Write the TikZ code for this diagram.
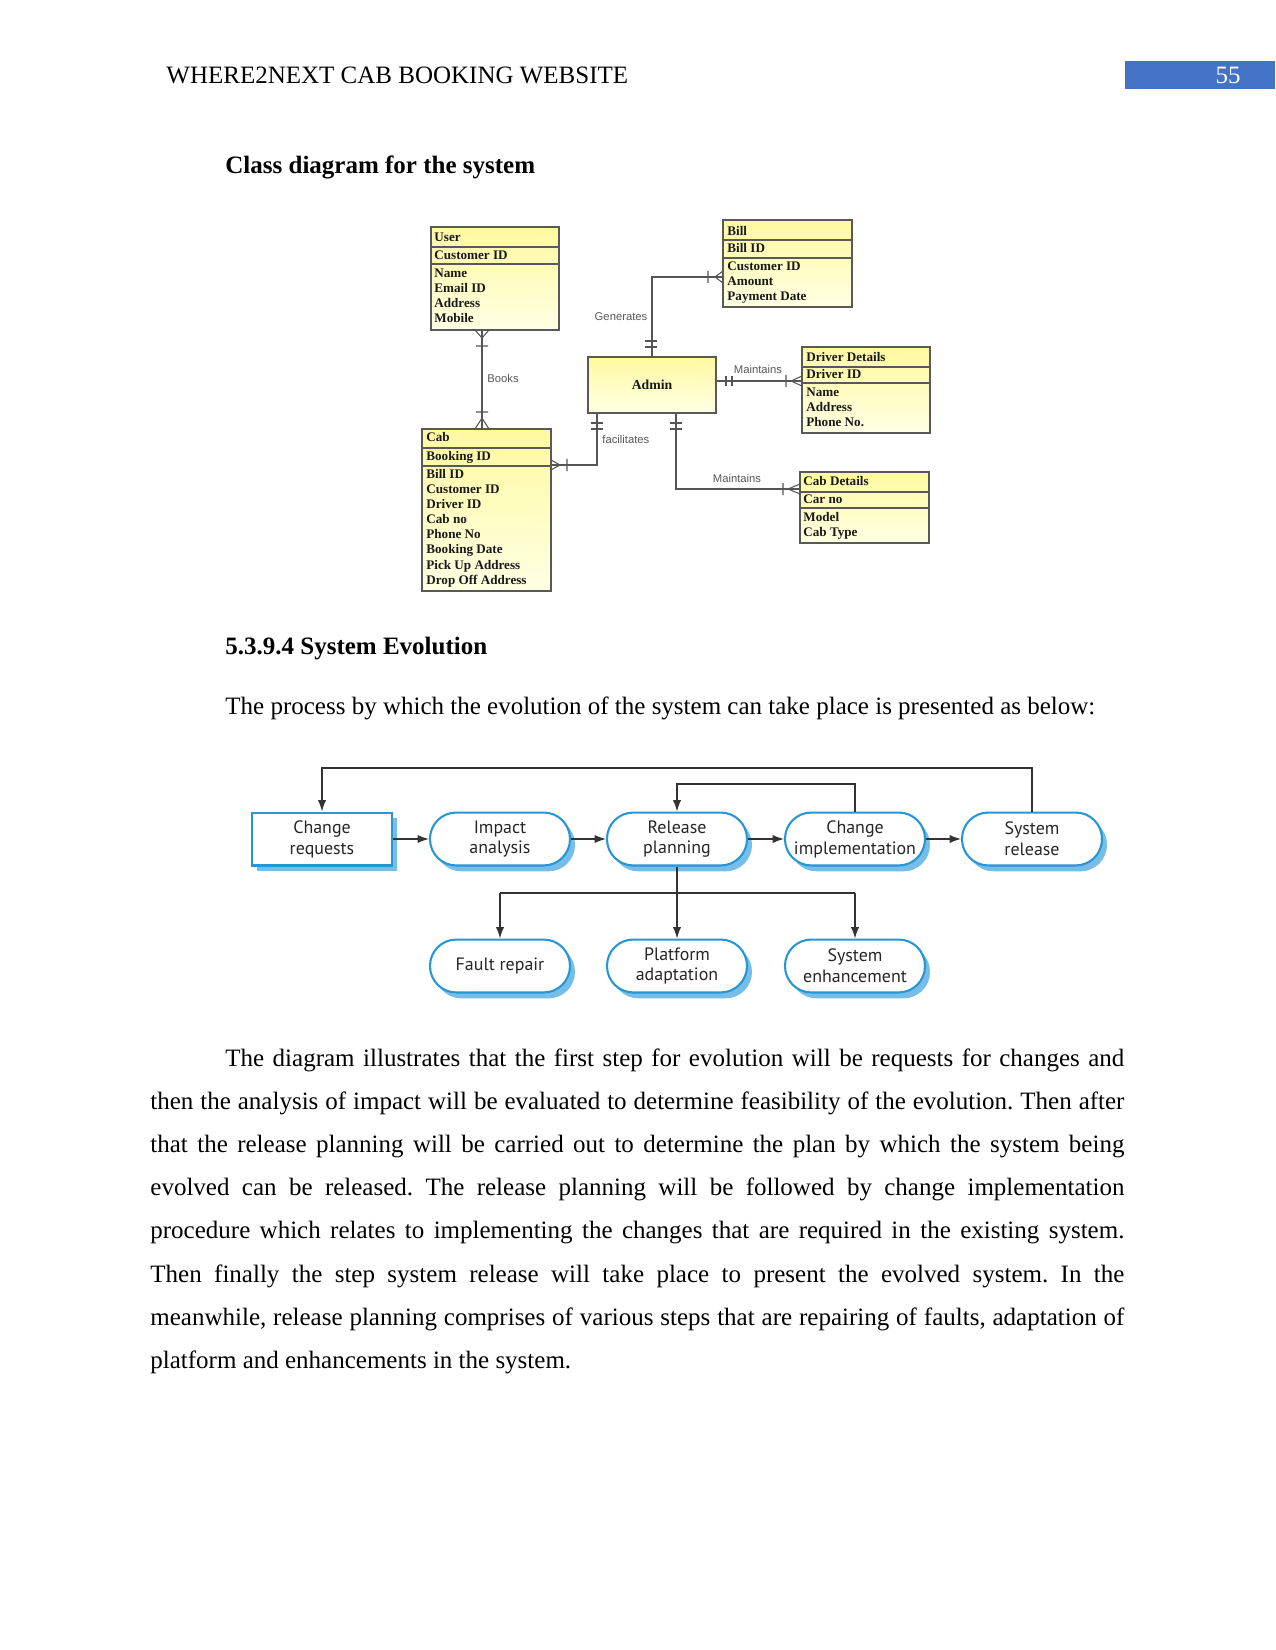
\documentclass[tikz,border=0pt]{standalone}
\usepackage{fontspec}
\setmainfont{Liberation Serif}
\newfontfamily\evofam{PT Sans}
\newfontfamily\lblfam{Liberation Sans}
\usetikzlibrary{arrows.meta,fit,shadows}
\definecolor{hdrblue}{RGB}{68,114,196}
\definecolor{evoblue}{RGB}{38,150,212}
\definecolor{evoshadow}{RGB}{118,190,232}
\definecolor{clstop}{RGB}{255,249,160}
\definecolor{clsbot}{RGB}{255,255,228}
\definecolor{erline}{RGB}{85,85,85}
\frenchspacing
\begin{document}
\begin{tikzpicture}[x=0.48pt,y=-0.48pt,
  clsbox/.style={draw=black!65, line width=0.5pt, top color=clstop, bottom color=clsbot, inner sep=0pt},
  clsline/.style={draw=black!65, line width=0.5pt},
  cls/.style={anchor=base west, inner sep=0pt, text=black!90, font=\bfseries\fontsize{6.3}{7}\selectfont},
  lbl/.style={inner sep=0pt, text=black!65, font=\lblfam\fontsize{5.4}{6}\selectfont},
  erl/.style={draw=erline, line width=0.5pt},
  evo/.style={draw=evoblue, line width=1pt, fill=white, rounded corners=12.6pt,
    minimum width=67.2pt, minimum height=25.4pt, inner sep=0pt, align=center,
    text=black!85, font=\evofam\fontsize{8.6}{10}\selectfont,
    drop shadow={shadow xshift=2.4pt, shadow yshift=-2.8pt, fill=evoshadow, opacity=1}},
  evorect/.style={evo, rounded corners=0pt},
  arr/.style={draw=black!80, line width=0.6pt, -{Latex[length=5.5pt,width=4pt]}},
  evl/.style={draw=black!80, line width=0.6pt}
]
\useasboundingbox (0,0) rectangle (1275,1650);
\fill[white] (0,0) rectangle (1275,1650);

% ---------- header ----------
\node[anchor=base west, inner sep=0pt, font=\fontsize{12}{14}\selectfont] (hdr) at (166,84) {WHERE2NEXT CAB BOOKING WEBSITE};
\node[fill=hdrblue, anchor=north west, minimum width=72pt, minimum height=13.4pt, inner sep=0pt] (pgbox) at (1125,61) {};
\node[anchor=base, inner sep=0pt, text=white, font=\fontsize{12}{14}\selectfont] (pgnum) at (1228,84) {55};

\node[anchor=base west, inner sep=0pt, font=\bfseries\fontsize{12}{14}\selectfont] (h1) at (225,174) {Class diagram for the system};

% ---------- class diagram ----------
\node[clsbox, fit={(431,227) (559,330)}] (user) {};
\draw[clsline] (user.west |- 0,247) -- (user.east |- 0,247);
\draw[clsline] (user.west |- 0,264) -- (user.east |- 0,264);
\node[cls] (u1) at (434,242) {User};
\node[cls] (u2) at (434,260) {Customer ID};
\node[cls] (u3) at (434,278) {Name};
\node[cls] (u4) at (434,293) {Email ID};
\node[cls] (u5) at (434,308) {Address};
\node[cls] (u6) at (434,323) {Mobile};

\node[clsbox, fit={(723,220) (852,307)}] (bill) {};
\draw[clsline] (bill.west |- 0,240) -- (bill.east |- 0,240);
\draw[clsline] (bill.west |- 0,258) -- (bill.east |- 0,258);
\node[cls] (b1) at (727,236) {Bill};
\node[cls] (b2) at (727,253) {Bill ID};
\node[cls] (b3) at (727,271) {Customer ID};
\node[cls] (b4) at (727,286) {Amount};
\node[cls] (b5) at (727,301) {Payment Date};

\node[clsbox, fit={(588,357) (716,413)}] (admin) {};
\node[inner sep=0pt, text=black!90, font=\bfseries\fontsize{6.6}{7}\selectfont] (admint) at (652,385) {Admin};

\node[clsbox, fit={(802,347) (930,433)}] (driver) {};
\draw[clsline] (driver.west |- 0,367) -- (driver.east |- 0,367);
\draw[clsline] (driver.west |- 0,383) -- (driver.east |- 0,383);
\node[cls] (d1) at (806,362) {Driver Details};
\node[cls] (d2) at (806,379) {Driver ID};
\node[cls] (d3) at (806,397) {Name};
\node[cls] (d4) at (806,412) {Address};
\node[cls] (d5) at (806,427) {Phone No.};

\node[clsbox, fit={(422,429) (551,591)}] (cab) {};
\draw[clsline] (cab.west |- 0,448) -- (cab.east |- 0,448);
\draw[clsline] (cab.west |- 0,466) -- (cab.east |- 0,466);
\node[cls] (c1) at (426,442) {Cab};
\node[cls] (c2) at (426,460) {Booking ID};
\node[cls] (c3) at (426,478) {Bill ID};
\node[cls] (c4) at (426,493) {Customer ID};
\node[cls] (c5) at (426,508) {Driver ID};
\node[cls] (c6) at (426,523) {Cab no};
\node[cls] (c7) at (426,538) {Phone No};
\node[cls] (c8) at (426,553) {Booking Date};
\node[cls] (c9) at (426,569) {Pick Up Address};
\node[cls] (c10) at (426,584) {Drop Off Address};

\node[clsbox, fit={(800,472) (929,543)}] (cabdet) {};
\draw[clsline] (cabdet.west |- 0,492) -- (cabdet.east |- 0,492);
\draw[clsline] (cabdet.west |- 0,508) -- (cabdet.east |- 0,508);
\node[cls] (k1) at (803,486) {Cab Details};
\node[cls] (k2) at (803,503) {Car no};
\node[cls] (k3) at (803,521) {Model};
\node[cls] (k4) at (803,536) {Cab Type};

% connectors
\draw[erl] (admin.north) |- (bill.west |- 0,277);
\draw[erl] (645,341) -- (657,341) (645,347) -- (657,347);
\draw[erl] (723,271) -- (715,277) -- (723,283) (708,271) -- (708,283);

\draw[erl] (user.south -| 482,0) -- (cab.north -| 482,0);
\draw[erl] (475,330) -- (482,338) -- (489,330) (476,346) -- (488,346);
\draw[erl] (475,429) -- (482,418) -- (489,429) (476,412) -- (488,412);

\draw[erl] (admin.east |- 0,381) -- (driver.west |- 0,381);
\draw[erl] (726,376) -- (726,386) (732,376) -- (732,386);
\draw[erl] (786,375) -- (786,387) (802,376) -- (791,381) -- (802,386);

\draw[erl] (admin.south -| 597,0) |- (cab.east |- 0,465);
\draw[erl] (591,423) -- (603,423) (591,429) -- (603,429);
\draw[erl] (551,460) -- (560,465) -- (551,470) (567,459) -- (567,471);

\draw[erl] (admin.south -| 676,0) |- (cabdet.west |- 0,489);
\draw[erl] (670,423) -- (682,423) (670,429) -- (682,429);
\draw[erl] (783,483) -- (783,495) (800,484) -- (788,489) -- (800,494);

\node[lbl] (lgen) at (621,317) {Generates};
\node[lbl, anchor=west] (lbooks) at (487,378) {Books};
\node[lbl] (lmd) at (758,369) {Maintains};
\node[lbl, anchor=west] (lfac) at (602,439) {facilitates};
\node[lbl] (lmc) at (737,478) {Maintains};

% ---------- section ----------
\node[anchor=base west, inner sep=0pt, font=\bfseries\fontsize{12}{14}\selectfont] (h2) at (225,654) {5.3.9.4 System Evolution};
\node[anchor=base west, inner sep=0pt, font=\fontsize{12}{14}\selectfont] (intro) at (225,714) {The process by which the evolution of the system can take place is presented as below:};

% ---------- evolution diagram ----------
\node[evorect] (chreq) at (322,839) {Change\\requests};
\node[evo] (impact) at (500,839) {Impact\\analysis};
\node[evo] (relplan) at (677,839) {Release\\planning};
\node[evo] (chimpl) at (855,839) {Change\\implementation};
\node[evo] (sysrel) at (1032,839) {System\\release};
\node[evo] (fault) at (500,966) {Fault repair};
\node[evo] (platform) at (677,966) {Platform\\adaptation};
\node[evo] (enh) at (855,966) {System\\enhancement};

\draw[arr] (chreq) -- (impact);
\draw[arr] (impact) -- (relplan);
\draw[arr] (relplan) -- (chimpl);
\draw[arr] (chimpl) -- (sysrel);
\draw[arr] (sysrel.north) -- (sysrel.north |- 0,768) -- (chreq.north |- 0,768) -- (chreq.north);
\draw[arr] (chimpl.north) -- (chimpl.north |- 0,784) -- (relplan.north |- 0,784) -- (relplan.north);
\draw[arr] (relplan.south) -- (platform.north);
\draw[evl] (fault.north |- 0,893) -- (enh.north |- 0,893);
\draw[arr] (fault.north |- 0,893) -- (fault.north);
\draw[arr] (enh.north |- 0,893) -- (enh.north);

% ---------- paragraph ----------
\node[anchor=base west, inner sep=0pt, font=\fontsize{12}{20.75}\selectfont] (para) at (150,1066) {\parbox[t]{467.5pt}{\fontsize{12}{20.75}\selectfont
\hspace*{36pt}\makebox[431.5pt][s]{The diagram illustrates that the first step for evolution will be requests for changes and}\\
\makebox[467.5pt][s]{then the analysis of impact will be evaluated to determine feasibility of the evolution. Then after}\\
\makebox[467.5pt][s]{that the release planning will be carried out to determine the plan by which the system being}\\
\makebox[467.5pt][s]{evolved can be released. The release planning will be followed by change implementation}\\
\makebox[467.5pt][s]{procedure which relates to implementing the changes that are required in the existing system.}\\
\makebox[467.5pt][s]{Then finally the step system release will take place to present the evolved system. In the}\\
\makebox[467.5pt][s]{meanwhile, release planning comprises of various steps that are repairing of faults, adaptation of}\\
platform and enhancements in the system.}};
\end{tikzpicture}
\end{document}
